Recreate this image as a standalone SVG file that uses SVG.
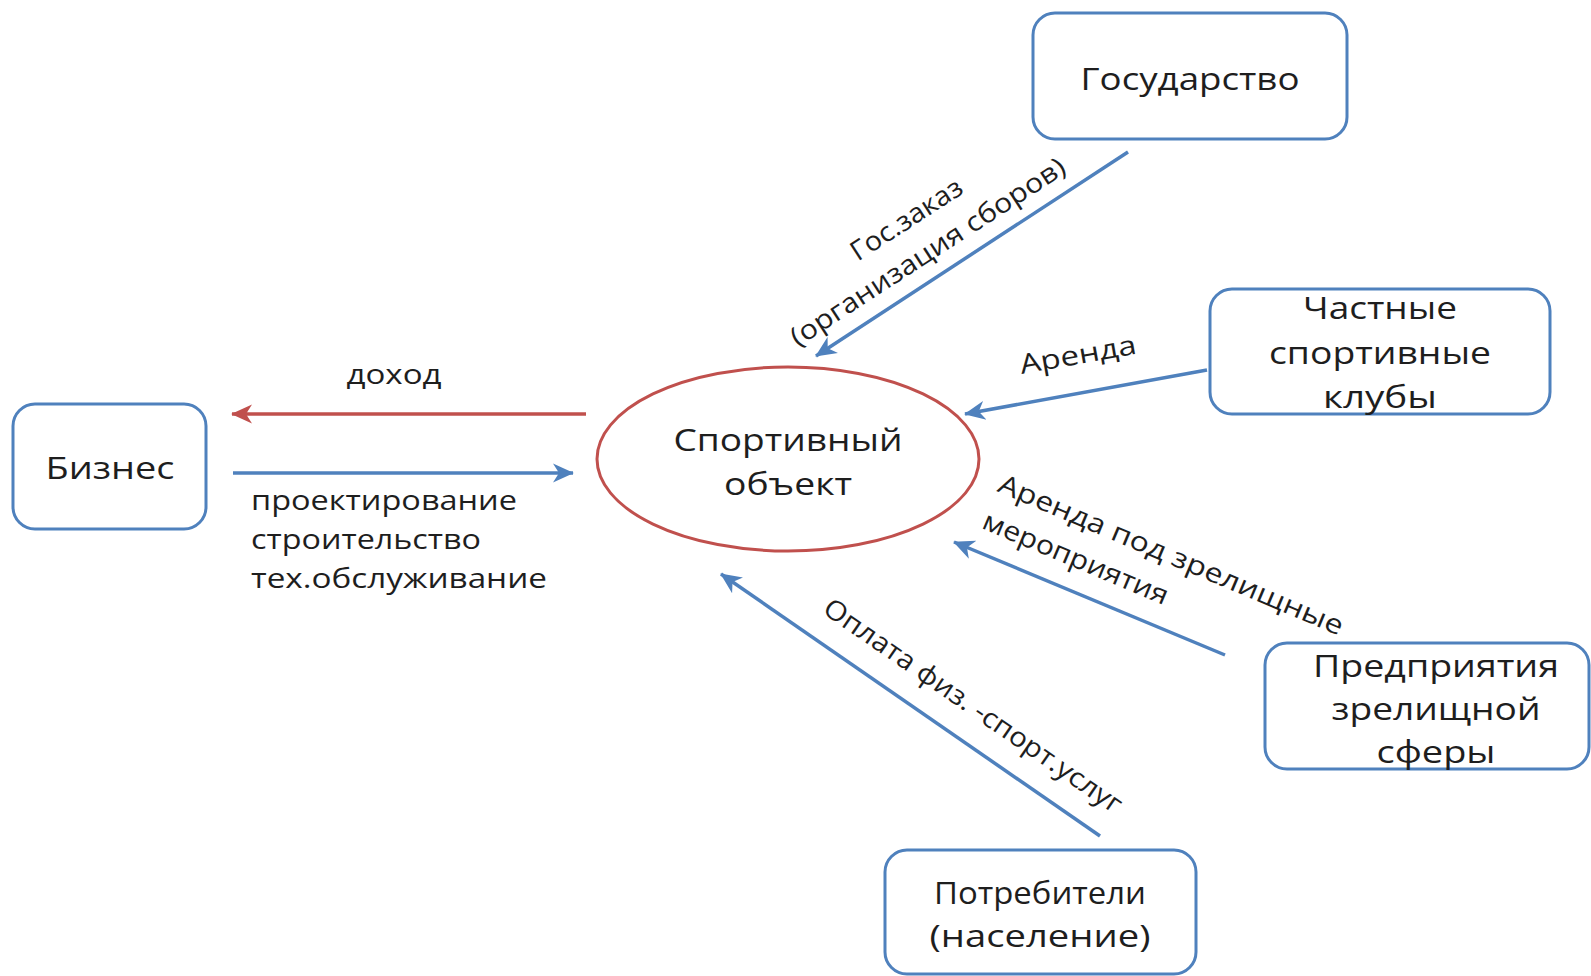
<svg xmlns="http://www.w3.org/2000/svg" width="1591" height="976" viewBox="0 0 1591 976">
<defs>
<style>
.node{fill:#fff;stroke:#4f81bd;stroke-width:3}
.oval{fill:#fff;stroke:#c0504d;stroke-width:3}
.nt{font-family:"Open Sans","Liberation Sans",sans-serif;font-size:31px;fill:#1e1e1e;text-anchor:middle}
.lt{font-family:"Open Sans","Liberation Sans",sans-serif;font-size:27px;fill:#1e1e1e}
.cb{fill:none;stroke:#4f81bd;stroke-width:3.5}
.cr{fill:none;stroke:#c0504d;stroke-width:3.5}
</style>
<marker id="ab" viewBox="0 0 12 12" refX="11.5" refY="6" markerWidth="6" markerHeight="6" orient="auto" markerUnits="strokeWidth">
<path d="M0,0.5 L12,6 L0,11.5 L3.5,6 Z" fill="#4f81bd"/>
</marker>
<marker id="ar" viewBox="0 0 12 12" refX="11.5" refY="6" markerWidth="6" markerHeight="6" orient="auto" markerUnits="strokeWidth">
<path d="M0,0.5 L12,6 L0,11.5 L3.5,6 Z" fill="#c0504d"/>
</marker>
</defs>
<rect width="1591" height="976" fill="#fff"/>
<g id="connectors">
<line class="cr" x1="586" y1="414" x2="232" y2="414" marker-end="url(#ar)"/>
<line class="cb" x1="233" y1="473" x2="573" y2="473" marker-end="url(#ab)"/>
<line class="cb" x1="1128" y1="152" x2="816" y2="356" marker-end="url(#ab)"/>
<line class="cb" x1="1207" y1="370" x2="965" y2="414" marker-end="url(#ab)"/>
<line class="cb" x1="1225" y1="655" x2="954" y2="542" marker-end="url(#ab)"/>
<line class="cb" x1="1100" y1="836" x2="721" y2="574" marker-end="url(#ab)"/>
<text class="lt" x="394" y="384" text-anchor="middle" textLength="95" lengthAdjust="spacingAndGlyphs">доход</text>
<text class="lt" x="251" y="510" textLength="266" lengthAdjust="spacingAndGlyphs">проектирование</text>
<text class="lt" x="251" y="549" textLength="230" lengthAdjust="spacingAndGlyphs">строительство</text>
<text class="lt" x="251" y="588" textLength="296" lengthAdjust="spacingAndGlyphs">тех.обслуживание</text>
<g transform="translate(918,237) rotate(-33)">
<text class="lt" x="0" y="-12" text-anchor="middle" textLength="128" lengthAdjust="spacingAndGlyphs">Гос.заказ</text>
<text class="lt" x="0" y="27" text-anchor="middle" textLength="322" lengthAdjust="spacingAndGlyphs">(организация сборов)</text>
</g>
<text class="lt" transform="translate(1078,355) rotate(-10)" x="0" y="9" text-anchor="middle" textLength="118" lengthAdjust="spacingAndGlyphs">Аренда</text>
<g transform="translate(1171,555) rotate(22.9)">
<text class="lt" x="-186" y="9" textLength="372" lengthAdjust="spacingAndGlyphs">Аренда под зрелищные</text>
<text class="lt" x="-186" y="49" textLength="199" lengthAdjust="spacingAndGlyphs">мероприятия</text>
</g>
<text class="lt" transform="translate(973,706) rotate(34.6)" x="0" y="9" text-anchor="middle" textLength="356" lengthAdjust="spacingAndGlyphs">Оплата физ. -спорт.услуг</text>
</g>
<g id="sport">
<ellipse class="oval" cx="788" cy="459" rx="191" ry="92"/>
<text class="nt" x="788" y="451" textLength="229" lengthAdjust="spacingAndGlyphs">Спортивный</text>
<text class="nt" x="788" y="495" textLength="128" lengthAdjust="spacingAndGlyphs">объект</text>
</g>
<g id="gos">
<rect class="node" x="1033" y="13" width="314" height="126" rx="22"/>
<text class="nt" x="1190" y="90" textLength="219" lengthAdjust="spacingAndGlyphs">Государство</text>
</g>
<g id="clubs">
<rect class="node" x="1210" y="289" width="340" height="125" rx="22"/>
<text class="nt" x="1380" y="319" textLength="154" lengthAdjust="spacingAndGlyphs">Частные</text>
<text class="nt" x="1380" y="364" textLength="222" lengthAdjust="spacingAndGlyphs">спортивные</text>
<text class="nt" x="1380" y="408" textLength="114" lengthAdjust="spacingAndGlyphs">клубы</text>
</g>
<g id="biz">
<rect class="node" x="13" y="404" width="193" height="125" rx="22"/>
<text class="nt" x="110" y="479" textLength="129" lengthAdjust="spacingAndGlyphs">Бизнес</text>
</g>
<g id="entertain">
<rect class="node" x="1265" y="643" width="324" height="126" rx="22"/>
<text class="nt" x="1436" y="677" textLength="246" lengthAdjust="spacingAndGlyphs">Предприятия</text>
<text class="nt" x="1436" y="720" textLength="209" lengthAdjust="spacingAndGlyphs">зрелищной</text>
<text class="nt" x="1436" y="763" textLength="119" lengthAdjust="spacingAndGlyphs">сферы</text>
</g>
<g id="consumers">
<rect class="node" x="885" y="850" width="311" height="124" rx="22"/>
<text class="nt" x="1040" y="904" textLength="212" lengthAdjust="spacingAndGlyphs">Потребители</text>
<text class="nt" x="1040" y="947" textLength="221" lengthAdjust="spacingAndGlyphs">(население)</text>
</g>
</svg>
